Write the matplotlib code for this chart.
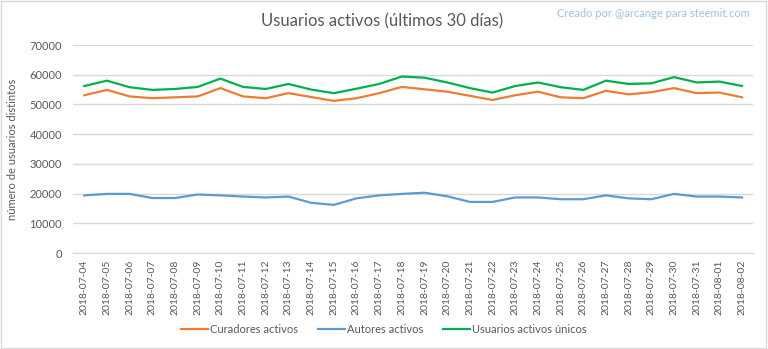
import matplotlib.pyplot as plt
from matplotlib.patches import Rectangle

plt.rcParams['font.family'] = ['Lato', 'DejaVu Sans']

fechas = ["2018-07-04", "2018-07-05", "2018-07-06", "2018-07-07", "2018-07-08",
          "2018-07-09", "2018-07-10", "2018-07-11", "2018-07-12", "2018-07-13",
          "2018-07-14", "2018-07-15", "2018-07-16", "2018-07-17", "2018-07-18",
          "2018-07-19", "2018-07-20", "2018-07-21", "2018-07-22", "2018-07-23",
          "2018-07-24", "2018-07-25", "2018-07-26", "2018-07-27", "2018-07-28",
          "2018-07-29", "2018-07-30", "2018-07-31", "2018-08-01", "2018-08-02"]

curadores = [53100, 54900, 52700, 52100, 52400, 52700, 55500, 52700, 52100, 53800,
             52500, 51200, 52100, 53800, 55900, 55100, 54300, 52900, 51500, 53100,
             54300, 52400, 52100, 54600, 53400, 54100, 55500, 53800, 54000, 52400]

autores = [19400, 19900, 19900, 18500, 18500, 19700, 19400, 19000, 18700, 19000,
           16900, 16200, 18400, 19400, 19900, 20300, 19100, 17200, 17200, 18700,
           18700, 18100, 18100, 19400, 18400, 18100, 19900, 19000, 19000, 18700]

unicos = [56200, 58000, 55800, 54900, 55200, 55900, 58700, 55900, 55200, 56900,
          55000, 53800, 55300, 56900, 59400, 59000, 57400, 55500, 54000, 56200,
          57400, 55800, 54900, 58000, 56900, 57100, 59200, 57400, 57700, 56200]

gris = "#595959"

fig = plt.figure(figsize=(7.68, 3.49), dpi=100)
ax = fig.add_axes([0.095, 0.275, 0.886, 0.596])

x = range(len(fechas))
ax.plot(x, curadores, color="#ED7D31", lw=1.6, label="Curadores activos")
ax.plot(x, autores, color="#5B9BD5", lw=1.6, label="Autores activos")
ax.plot(x, unicos, color="#00B050", lw=1.6, label="Usuarios activos únicos")

ax.set_xlim(-0.5, len(fechas) - 0.5)
ax.set_ylim(0, 70000)
ax.set_yticks(range(0, 70001, 10000))
ax.set_xticks(list(x))
ax.set_xticklabels(fechas, rotation=90, fontsize=7.5, color=gris)
ax.tick_params(axis="y", labelsize=8, colors=gris, length=0, pad=8)
ax.tick_params(axis="x", length=0, pad=5)
ax.grid(axis="y", color="#D9D9D9", lw=1)
ax.set_axisbelow(True)
for s in ["top", "right", "left"]:
    ax.spines[s].set_visible(False)
ax.spines["bottom"].set_color("#D9D9D9")
ax.set_ylabel("número de usuarios distintos", fontsize=8, color=gris, labelpad=8)

fig.text(0.498, 0.94, "Usuarios activos (últimos 30 días)", ha="center", va="center",
         fontsize=12, color=gris)
fig.text(0.977, 0.962, "Creado por @arcange para steemit.com", ha="right", va="center",
         fontsize=8, color="#9DC3E6")

fig.legend(loc="center", bbox_to_anchor=(0.5, 0.057), ncol=3, frameon=False,
           fontsize=8, labelcolor=gris, handlelength=2.4, handletextpad=0.2,
           columnspacing=1.8)

fig.patches.append(Rectangle((0.001, 0.002), 0.997, 0.995, transform=fig.transFigure,
                             fill=False, edgecolor="#D9D9D9", lw=1))

fig.savefig("out.png", dpi=100)
